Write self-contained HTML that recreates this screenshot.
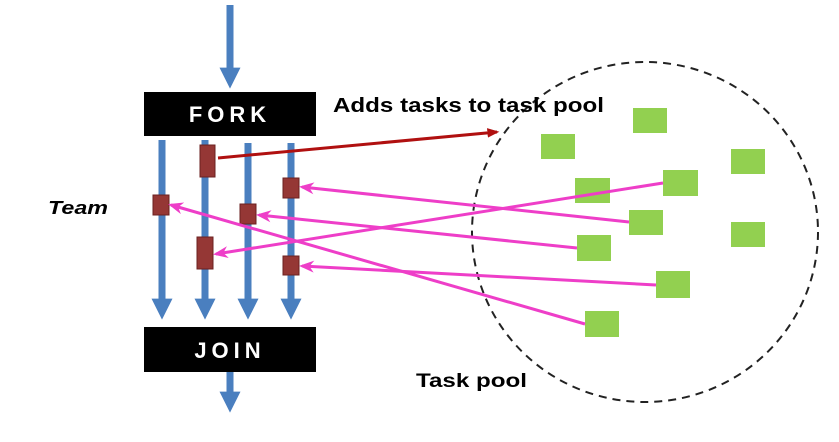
<!DOCTYPE html>
<html><head><style>body{margin:0;background:#fff}</style></head><body>
<svg width="839" height="437" xmlns="http://www.w3.org/2000/svg" font-family="Liberation Sans, sans-serif">
<defs>
<marker id="bh" viewBox="0 0 10 10" refX="4" refY="5" markerWidth="3" markerHeight="3" orient="auto"><path d="M0,0L10,5L0,10z" fill="#4a7fbf"/></marker>
<marker id="mh" viewBox="0 0 10 10" refX="8" refY="5" markerWidth="5" markerHeight="5" orient="auto"><path d="M0,1L10,5L0,9L3,5z" fill="#ee3ec8"/></marker>
<marker id="rh" viewBox="0 0 10 10" refX="8" refY="5" markerWidth="4" markerHeight="4" orient="auto"><path d="M0,1L10,5L0,9z" fill="#b01010"/></marker>
</defs>
<g stroke="#4a7fbf" stroke-width="7">
<line x1="230" y1="5" x2="230" y2="76" marker-end="url(#bh)"/>
<line x1="162" y1="140" x2="162" y2="307" marker-end="url(#bh)"/>
<line x1="205" y1="140" x2="205" y2="307" marker-end="url(#bh)"/>
<line x1="248" y1="143" x2="248" y2="307" marker-end="url(#bh)"/>
<line x1="291" y1="143" x2="291" y2="307" marker-end="url(#bh)"/>
<line x1="230" y1="372" x2="230" y2="400" marker-end="url(#bh)"/>
</g>
<rect x="144" y="92" width="172" height="44" fill="#000"/>
<rect x="144" y="327" width="172" height="45" fill="#000"/>
<text x="230" y="122" fill="#fff" font-size="22" font-weight="bold" text-anchor="middle" letter-spacing="5">FORK</text>
<text x="230" y="358" fill="#fff" font-size="22" font-weight="bold" text-anchor="middle" letter-spacing="5">JOIN</text>
<ellipse cx="645" cy="232" rx="173" ry="170" fill="none" stroke="#222" stroke-width="2" stroke-dasharray="8,6"/>
<g fill="#92d050">
<rect x="541" y="134" width="34" height="25"/><rect x="633" y="108" width="34" height="25"/>
<rect x="731" y="149" width="34" height="25"/><rect x="575" y="178" width="35" height="25"/>
<rect x="663" y="170" width="35" height="26"/><rect x="629" y="210" width="34" height="25"/>
<rect x="731" y="222" width="34" height="25"/><rect x="577" y="235" width="34" height="26"/>
<rect x="656" y="271" width="34" height="27"/><rect x="585" y="311" width="34" height="26"/>
</g>
<g fill="#953735" stroke="#6b2020" stroke-width="1">
<rect x="200" y="145" width="15" height="32"/><rect x="153" y="195" width="16" height="20"/>
<rect x="240" y="204" width="16" height="20"/><rect x="283" y="178" width="16" height="20"/>
<rect x="197" y="237" width="16" height="32"/><rect x="283" y="256" width="16" height="19"/>
</g>
<line x1="218" y1="158" x2="497" y2="132" stroke="#b01010" stroke-width="3" marker-end="url(#rh)"/>
<g stroke="#ee3ec8" stroke-width="3" marker-end="url(#mh)">
<line x1="629" y1="222" x2="302" y2="187"/>
<line x1="577" y1="248" x2="259" y2="215"/>
<line x1="663" y1="183" x2="216" y2="254"/>
<line x1="656" y1="285" x2="302" y2="266"/>
<line x1="585" y1="324" x2="171" y2="205"/>
</g>
<text x="333" y="112" font-size="20" font-weight="bold" textLength="271" lengthAdjust="spacingAndGlyphs">Adds tasks to task pool</text>
<text x="48" y="214" font-size="18" font-weight="bold" font-style="italic" textLength="60" lengthAdjust="spacingAndGlyphs">Team</text>
<text x="416" y="387" font-size="19" font-weight="bold" textLength="111" lengthAdjust="spacingAndGlyphs">Task pool</text>
</svg>
</body></html>
